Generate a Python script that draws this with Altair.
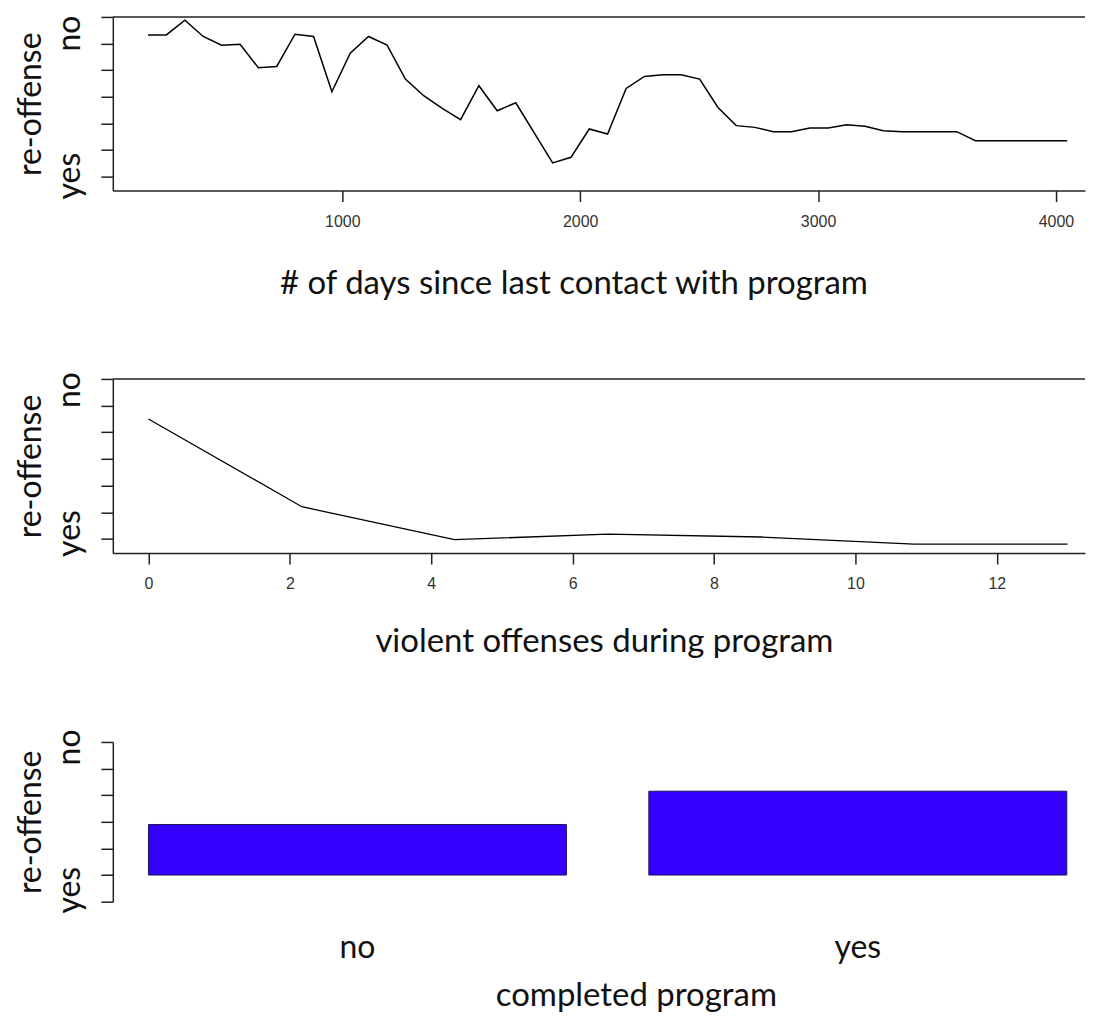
import altair as alt
import pandas as pd

# ---- data ----
days = [183, 260, 338, 415, 492, 570, 647, 724, 801, 879, 956, 1033, 1110, 1188,
        1265, 1342, 1420, 1497, 1574, 1651, 1729, 1884, 1961, 2038, 2115, 2193,
        2270, 2347, 2424, 2502, 2579, 2656, 2734, 2811, 2888, 2965, 3043, 3120,
        3197, 3274, 3352, 3429, 3506, 3583, 3661, 4047]
days_p = [1.065, 1.065, 1.175, 1.053, 0.988, 0.995, 0.818, 0.828, 1.07, 1.053,
          0.638, 0.928, 1.053, 0.988, 0.733, 0.608, 0.513, 0.428, 0.683, 0.495,
          0.555, 0.103, 0.145, 0.358, 0.32, 0.663, 0.753, 0.765, 0.765, 0.733,
          0.52, 0.383, 0.37, 0.338, 0.338, 0.365, 0.365, 0.39, 0.378, 0.345,
          0.338, 0.338, 0.338, 0.338, 0.27, 0.27]

violent = [0, 2.17, 4.33, 6.5, 8.67, 10.83, 13]
violent_p = [0.9, 0.242, -0.005, 0.037, 0.015, -0.038, -0.038]

completed = ["no", "yes"]
completed_p = [0.38, 0.63]

y_ticks = [0, 0.2, 0.4, 0.6, 0.8, 1, 1.2]
y_ticks_bar = [-0.2, 0, 0.2, 0.4, 0.6, 0.8, 1]

df1 = pd.DataFrame({"days": days, "p": days_p})
df2 = pd.DataFrame({"violent": violent, "p": violent_p})
df3 = pd.DataFrame({"completed": completed, "p": completed_p})
one = pd.DataFrame({"k": [0]})

FONT = "Lato"
TICKFONT = "Liberation Sans"
INK = "#111111"
AX = "#222222"
W = 974


def yaxis(values, no_val, yes_val, no_off, yes_off):
    return alt.Axis(
        values=values,
        title="re-offense",
        titleFont=FONT, titleFontSize=32, titleFontWeight="normal", titleColor=INK,
        titleAngle=270, titleX=-82, titleBaseline="middle", titleAlign="center",
        labelExpr=f"datum.value == {no_val} ? 'no' : (datum.value == {yes_val} ? 'yes' : '')",
        labelAngle=270, labelAlign="center", labelBaseline="middle",
        labelFont=FONT, labelFontSize=32, labelColor=INK,
        labelPadding=31, labelOverlap=False, labelFlush=False,
        labelOffset={"condition": {"test": f"datum.value == {no_val}", "value": no_off},
                     "value": yes_off},
        tickSize=12, tickColor=AX, tickWidth=1.5,
        domainColor=AX, domainWidth=1.5, grid=False,
    )


def xaxis(values, title, title_x, title_y, fmt):
    return alt.Axis(
        values=values, format=fmt,
        title=title, titleFont=FONT, titleFontSize=33, titleFontWeight="normal",
        titleColor=INK, titleX=title_x, titleY=title_y,
        titleBaseline="alphabetic", titleAlign="center",
        labelFont=TICKFONT, labelFontSize=16, labelColor="#333333",
        labelBaseline="alphabetic", labelPadding=25, labelFlush=False,
        tickSize=11, tickColor=AX, tickWidth=1.5,
        domainColor=AX, domainWidth=1.5, grid=False,
    )


def border():
    return alt.Chart(one).mark_rule(color=AX, strokeWidth=1.5).encode(
        x=alt.value(0), x2=alt.value(W), y=alt.value(0))


top_line = alt.Chart(df1).mark_line(color="black", strokeWidth=1.5).encode(
    x=alt.X("days:Q", scale=alt.Scale(domain=[35, 4122], nice=False, zero=False),
            axis=xaxis([1000, 2000, 3000, 4000],
                       "# of days since last contact with program", 461.5, 102.7, "d")),
    y=alt.Y("p:Q", scale=alt.Scale(domain=[-0.105, 1.2], nice=False, zero=False),
            axis=yaxis(y_ticks, 1, 0, -10.5, -1)),
)
top = alt.layer(top_line, border()).properties(width=W, height=174)

mid_line = alt.Chart(df2).mark_line(color="black", strokeWidth=1.3).encode(
    x=alt.X("violent:Q", scale=alt.Scale(domain=[-0.504, 13.248], nice=False, zero=False),
            axis=xaxis([0, 2, 4, 6, 8, 10, 12],
                       "violent offenses during program", 492, 99, "d")),
    y=alt.Y("p:Q", scale=alt.Scale(domain=[-0.105, 1.2], nice=False, zero=False),
            axis=yaxis(y_ticks, 1, 0, -16, -6)),
)
mid = alt.layer(mid_line, border()).properties(width=W, height=174.4)

bars = alt.Chart(df3).mark_bar(color="#3300FF", stroke="#1c1c5c", strokeWidth=1).encode(
    x=alt.X("completed:N", sort=completed,
            scale=alt.Scale(paddingInner=0.1646, paddingOuter=0.0538, align=0.662),
            axis=alt.Axis(
                title="completed program", titleFont=FONT, titleFontSize=33,
                titleFontWeight="normal", titleColor=INK, titleX=524, titleY=104,
                titleBaseline="alphabetic", titleAlign="center",
                labelFont=FONT, labelFontSize=32, labelColor=INK, labelAngle=0,
                labelBaseline="alphabetic", labelPadding=56,
                domain=False, ticks=False, grid=False)),
    y=alt.Y("p:Q", scale=alt.Scale(domain=[-0.2, 1.0], nice=False, zero=False),
            axis=yaxis(y_ticks_bar, 1, -0.2, 5, -12)),
)
bot = bars.properties(width=W, height=160)

chart = alt.vconcat(top, mid, bot, spacing=188.7, bounds="flush").properties(
    padding={"left": 6, "top": 6, "right": 0, "bottom": 0},
    background="white",
).configure_view(stroke=None)

chart.save("out.html", embed_options={"renderer": "svg", "actions": False})
